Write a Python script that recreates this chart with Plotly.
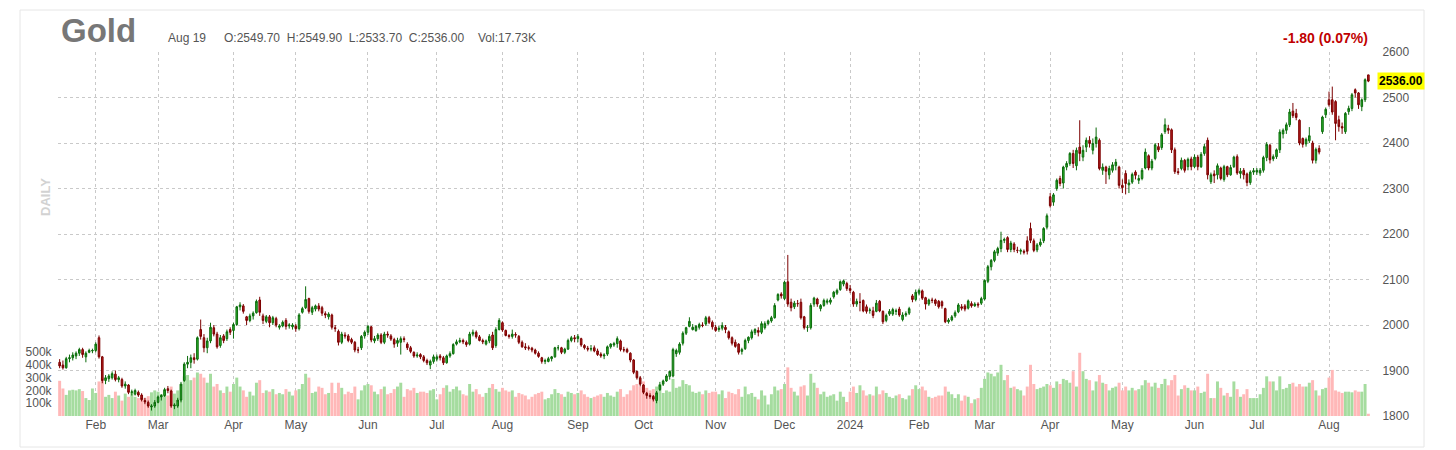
import pandas as pd
import plotly.graph_objects as go

# ---------------- data ----------------
holidays = ['2023-02-20', '2023-04-07', '2023-05-29', '2023-06-19', '2023-07-04', '2023-09-04',
            '2023-11-23', '2023-12-25', '2024-01-01', '2024-01-15', '2024-02-19', '2024-03-29',
            '2024-05-27', '2024-06-19', '2024-07-04']
dates = [d.strftime('%Y-%m-%d') for d in pd.bdate_range('2023-01-17', '2024-08-19')
         if d.strftime('%Y-%m-%d') not in holidays]

opens = [
    # Jan 2023
    1918, 1912, 1906, 1926, 1928, 1932, 1938, 1946, 1930, 1940, 1943,
    # Feb
    1944, 1972, 1930, 1878, 1882, 1884, 1892, 1880, 1880, 1866, 1868, 1852, 1848, 1852, 1846, 1834, 1830, 1820, 1822,
    # Mar
    1830, 1842, 1845, 1860, 1855, 1822, 1822, 1835, 1878, 1914, 1918, 1928, 1925, 1990, 1972, 1950, 1965, 1994, 1980, 1955, 1976, 1970, 1990,
    # Apr
    1988, 2001, 2040, 2042, 2018, 2010, 2020, 2027, 2055, 2020, 2008, 2018, 2005, 2014, 1995, 1998, 2010, 1998, 1996,
    # May
    1998, 1992, 2028, 2038, 2058, 2028, 2035, 2042, 2038, 2025, 2018, 2022, 1994, 1986, 1962, 1978, 1976, 1968, 1962, 1945, 1950, 1976,
    # Jun
    1984, 1996, 1965, 1970, 1978, 1962, 1980, 1976, 1968, 1960, 1962, 1970, 1958, 1950, 1940, 1932, 1935, 1930, 1922, 1912, 1920,
    # Jul
    1925, 1932, 1928, 1917, 1932, 1937, 1958, 1963, 1966, 1962, 1958, 1980, 1984, 1974, 1966, 1958, 1965, 1978, 1955, 1990,
    # Aug
    2005, 1988, 1977, 1975, 1979, 1975, 1962, 1952, 1950, 1949, 1945, 1938, 1928, 1920, 1920, 1926, 1930, 1950, 1950, 1940, 1947, 1966, 1972,
    # Sep
    1970, 1970, 1955, 1949, 1947, 1950, 1943, 1936, 1932, 1936, 1952, 1956, 1959, 1965, 1946, 1946, 1938, 1923, 1898, 1884,
    # Oct
    1868, 1850, 1845, 1843, 1834, 1858, 1870, 1877, 1887, 1888, 1937, 1940, 1960, 1982, 1997, 1990, 1988, 1995, 2000, 2002, 2016, 2006,
    # Nov
    1995, 1990, 1993, 1995, 1985, 1972, 1962, 1958, 1942, 1948, 1966, 1972, 1983, 1988, 1984, 1994, 2003, 2009, 2016, 2055, 2068,
    # Dec
    2058, 2095, 2050, 2040, 2047, 2050, 2018, 1995, 1994, 2046, 2057, 2036, 2043, 2050, 2050, 2062, 2070, 2078, 2090, 2091,
    # Jan 2024
    2080, 2072, 2046, 2050, 2054, 2040, 2032, 2031, 2030, 2052, 2030, 2010, 2024, 2024, 2030, 2035, 2012, 2022, 2026, 2064, 2056,
    # Feb
    2070, 2075, 2060, 2046, 2055, 2055, 2052, 2051, 2036, 2007, 2011, 2020, 2029, 2040, 2042, 2037, 2047, 2042, 2046, 2048,
    # Mar
    2057, 2096, 2128, 2142, 2158, 2168, 2186, 2192, 2166, 2178, 2164, 2162, 2162, 2185, 2212, 2185, 2165, 2176, 2185, 2215,
    # Apr
    2282, 2270, 2300, 2322, 2312, 2347, 2355, 2377, 2350, 2391, 2369, 2391, 2406, 2384, 2399, 2406, 2340, 2347, 2330, 2340, 2350, 2347,
    # May
    2307, 2333, 2308, 2314, 2336, 2318, 2322, 2345, 2372, 2345, 2366, 2392, 2390, 2425, 2432, 2429, 2385, 2337, 2344, 2362, 2348, 2365,
    # Jun
    2348, 2369, 2348, 2377, 2406, 2315, 2332, 2330, 2345, 2320, 2348, 2330, 2348, 2370, 2333, 2340, 2332, 2313, 2336,
    # Jul
    2336, 2334, 2340, 2368, 2395, 2365, 2370, 2385, 2420, 2428, 2440, 2470, 2465, 2450, 2410, 2398, 2405, 2400, 2362, 2388, 2425, 2462,
    # Aug
    2495, 2495, 2491, 2451, 2436, 2425, 2469, 2476, 2517, 2510, 2480, 2495, 2549.7,
]
highs = [
    1925, 1922, 1930, 1935, 1940, 1942, 1950, 1950, 1942, 1948, 1948,
    1962, 1977, 1932, 1890, 1892, 1898, 1900, 1888, 1884, 1876, 1870, 1858, 1860, 1856, 1850, 1840, 1834, 1826, 1835,
    1845, 1848, 1862, 1866, 1858, 1828, 1840, 1875, 1918, 1932, 1935, 1938, 1975, 2012, 1980, 1972, 2005, 2000, 1985, 1978, 1980, 1990, 1995,
    2005, 2042, 2050, 2046, 2020, 2025, 2030, 2056, 2062, 2025, 2022, 2022, 2020, 2018, 2002, 2010, 2015, 2004, 2004,
    2002, 2026, 2040, 2085, 2060, 2042, 2045, 2048, 2042, 2030, 2028, 2025, 2000, 1990, 1985, 1984, 1980, 1972, 1965, 1952, 1978, 1988,
    2000, 1998, 1976, 1982, 1982, 1985, 1986, 1980, 1972, 1972, 1975, 1975, 1962, 1954, 1942, 1940, 1938, 1934, 1926, 1924, 1935,
    1935, 1936, 1932, 1935, 1942, 1960, 1968, 1972, 1970, 1966, 1985, 1990, 1988, 1978, 1970, 1968, 1980, 1985, 1995, 2015,
    2008, 1990, 1980, 1990, 1984, 1978, 1966, 1960, 1955, 1952, 1948, 1942, 1930, 1926, 1930, 1932, 1952, 1956, 1952, 1950, 1970, 1976, 1978,
    1980, 1972, 1958, 1954, 1956, 1955, 1948, 1940, 1938, 1955, 1960, 1963, 1975, 1968, 1952, 1950, 1940, 1925, 1900, 1888,
    1870, 1853, 1850, 1846, 1855, 1875, 1880, 1892, 1900, 1950, 1948, 1962, 1986, 1996, 2017, 2002, 2000, 2005, 2006, 2020, 2020, 2010,
    2000, 1998, 2006, 2000, 1988, 1975, 1968, 1960, 1950, 1970, 1975, 1990, 1993, 1995, 2008, 2008, 2012, 2020, 2048, 2070, 2072,
    2097, 2154, 2058, 2053, 2055, 2058, 2020, 2000, 2048, 2062, 2060, 2046, 2058, 2058, 2060, 2075, 2080, 2098, 2100, 2095,
    2088, 2075, 2058, 2070, 2056, 2045, 2038, 2040, 2055, 2055, 2032, 2025, 2035, 2038, 2036, 2040, 2028, 2030, 2040, 2068, 2078,
    2080, 2078, 2062, 2058, 2060, 2058, 2055, 2054, 2038, 2015, 2022, 2032, 2048, 2046, 2046, 2056, 2052, 2050, 2050, 2062,
    2100, 2132, 2145, 2165, 2172, 2205, 2192, 2195, 2185, 2182, 2172, 2168, 2166, 2195, 2225, 2190, 2180, 2190, 2215, 2245,
    2290, 2290, 2322, 2328, 2350, 2360, 2380, 2385, 2390, 2450, 2395, 2412, 2415, 2410, 2434, 2410, 2355, 2350, 2350, 2358, 2365, 2350,
    2320, 2340, 2320, 2335, 2340, 2330, 2345, 2388, 2375, 2365, 2400, 2400, 2422, 2454, 2440, 2432, 2390, 2345, 2368, 2365, 2368, 2370,
    2375, 2374, 2380, 2398, 2412, 2335, 2340, 2355, 2348, 2352, 2350, 2352, 2372, 2375, 2345, 2345, 2335, 2340, 2345,
    2345, 2345, 2372, 2402, 2398, 2375, 2388, 2430, 2432, 2445, 2475, 2488, 2475, 2452, 2412, 2412, 2435, 2405, 2390, 2395, 2460, 2478,
    2513, 2524, 2494, 2460, 2445, 2468, 2482, 2510, 2520, 2512, 2498, 2542, 2549.9,
]
lows = [
    1905, 1902, 1904, 1918, 1922, 1925, 1932, 1928, 1918, 1938, 1938,
    1940, 1926, 1872, 1870, 1875, 1880, 1876, 1874, 1862, 1860, 1848, 1845, 1845, 1842, 1832, 1826, 1818, 1812, 1818,
    1828, 1834, 1842, 1850, 1818, 1815, 1818, 1830, 1875, 1905, 1905, 1915, 1922, 1968, 1940, 1938, 1960, 1975, 1948, 1950, 1960, 1965, 1978,
    1970, 1998, 2032, 2025, 2000, 2006, 2012, 2025, 2020, 2002, 2004, 1995, 2000, 1995, 1990, 1995, 1990, 1992, 1990,
    1985, 1988, 2025, 2035, 2025, 2022, 2030, 2030, 2020, 2015, 2012, 1990, 1985, 1955, 1958, 1970, 1962, 1958, 1940, 1938, 1945, 1970,
    1978, 1962, 1960, 1965, 1958, 1958, 1972, 1965, 1950, 1952, 1935, 1962, 1945, 1938, 1928, 1928, 1925, 1918, 1912, 1903, 1915,
    1920, 1922, 1912, 1915, 1928, 1935, 1955, 1960, 1958, 1952, 1955, 1975, 1970, 1964, 1958, 1955, 1960, 1945, 1950, 1988,
    1985, 1975, 1970, 1970, 1972, 1958, 1950, 1945, 1944, 1940, 1935, 1928, 1915, 1914, 1918, 1920, 1928, 1944, 1936, 1936, 1945, 1962, 1962,
    1962, 1952, 1946, 1942, 1942, 1940, 1932, 1928, 1925, 1932, 1948, 1952, 1950, 1942, 1940, 1938, 1918, 1892, 1880, 1865,
    1848, 1838, 1838, 1832, 1828, 1855, 1866, 1875, 1880, 1885, 1930, 1935, 1955, 1978, 1995, 1988, 1985, 1990, 1995, 1998, 2002, 1990,
    1985, 1985, 1988, 1982, 1968, 1955, 1950, 1935, 1935, 1945, 1960, 1968, 1978, 1975, 1980, 1990, 2000, 2005, 2014, 2052, 2058,
    2055, 2040, 2030, 2035, 2040, 2012, 1990, 1985, 1990, 2040, 2040, 2030, 2040, 2045, 2045, 2058, 2066, 2075, 2085, 2075,
    2070, 2040, 2040, 2030, 2028, 2025, 2025, 2015, 2028, 2028, 2002, 2006, 2020, 2020, 2022, 2018, 2008, 2018, 2022, 2050, 2052,
    2065, 2055, 2034, 2042, 2048, 2042, 2036, 2036, 2004, 2003, 2008, 2016, 2026, 2032, 2030, 2034, 2038, 2040, 2038, 2044,
    2054, 2092, 2120, 2138, 2152, 2160, 2180, 2160, 2160, 2160, 2158, 2155, 2155, 2155, 2180, 2160, 2160, 2172, 2180, 2210,
    2258, 2262, 2295, 2305, 2300, 2340, 2350, 2345, 2340, 2360, 2360, 2380, 2390, 2375, 2390, 2340, 2330, 2310, 2320, 2335, 2340, 2300,
    2290, 2287, 2290, 2310, 2320, 2310, 2318, 2342, 2340, 2340, 2362, 2380, 2385, 2420, 2420, 2378, 2332, 2330, 2340, 2335, 2340, 2340,
    2345, 2340, 2345, 2372, 2320, 2310, 2312, 2320, 2318, 2315, 2325, 2328, 2345, 2330, 2322, 2320, 2305, 2308, 2330,
    2330, 2328, 2335, 2360, 2355, 2360, 2365, 2378, 2410, 2420, 2435, 2455, 2450, 2395, 2390, 2392, 2400, 2355, 2355, 2375, 2420, 2455,
    2480, 2462, 2406, 2425, 2420, 2420, 2462, 2470, 2500, 2475, 2470, 2490, 2533.7,
]
closes = [
    1910, 1906, 1926, 1928, 1934, 1938, 1946, 1935, 1938, 1944, 1944,
    1958, 1930, 1878, 1884, 1888, 1893, 1880, 1884, 1866, 1870, 1852, 1853, 1856, 1846, 1836, 1831, 1822, 1822, 1830,
    1842, 1845, 1858, 1856, 1822, 1824, 1835, 1870, 1914, 1918, 1928, 1924, 1972, 1975, 1950, 1965, 1995, 1980, 1952, 1972, 1966, 1985, 1984,
    2001, 2040, 2044, 2030, 2010, 2020, 2026, 2052, 2028, 2010, 2018, 2005, 2016, 2000, 1998, 2006, 1997, 2000, 2000,
    1992, 2022, 2036, 2056, 2030, 2038, 2042, 2035, 2026, 2022, 2024, 1995, 1992, 1962, 1980, 1976, 1966, 1962, 1945, 1945, 1975, 1984,
    1997, 1967, 1970, 1978, 1962, 1980, 1978, 1969, 1958, 1966, 1970, 1968, 1950, 1942, 1932, 1934, 1930, 1922, 1917, 1920, 1930,
    1930, 1928, 1917, 1932, 1937, 1957, 1963, 1966, 1963, 1957, 1980, 1984, 1974, 1966, 1963, 1965, 1975, 1950, 1990, 2010,
    1989, 1977, 1975, 1980, 1978, 1962, 1952, 1950, 1949, 1945, 1938, 1931, 1920, 1922, 1926, 1930, 1950, 1950, 1940, 1947, 1966, 1972, 1970,
    1975, 1956, 1950, 1947, 1948, 1943, 1935, 1932, 1934, 1952, 1958, 1959, 1970, 1946, 1945, 1941, 1923, 1896, 1884, 1870,
    1852, 1845, 1843, 1837, 1851, 1868, 1877, 1888, 1898, 1946, 1944, 1958, 1982, 1994, 2008, 1995, 1997, 2001, 1999, 2016, 2006, 1996,
    1988, 1993, 1999, 1990, 1972, 1960, 1953, 1940, 1946, 1966, 1973, 1985, 1990, 1984, 2003, 2003, 2009, 2016, 2043, 2067, 2064,
    2094, 2046, 2038, 2048, 2047, 2016, 1994, 1995, 2043, 2059, 2046, 2043, 2054, 2053, 2055, 2072, 2076, 2095, 2097, 2080,
    2076, 2046, 2052, 2050, 2031, 2030, 2033, 2021, 2048, 2031, 2007, 2021, 2030, 2034, 2031, 2022, 2022, 2025, 2036, 2056, 2072,
    2076, 2059, 2046, 2055, 2054, 2047, 2040, 2042, 2007, 2011, 2018, 2027, 2044, 2037, 2035, 2053, 2042, 2046, 2044, 2058,
    2098, 2128, 2142, 2161, 2168, 2186, 2188, 2166, 2180, 2166, 2164, 2164, 2160, 2162, 2186, 2164, 2176, 2182, 2212, 2240,
    2262, 2286, 2318, 2311, 2347, 2355, 2377, 2355, 2384, 2377, 2384, 2406, 2399, 2399, 2413, 2344, 2347, 2338, 2344, 2352, 2358, 2307,
    2302, 2311, 2312, 2331, 2329, 2322, 2340, 2380, 2345, 2360, 2396, 2385, 2418, 2440, 2428, 2385, 2337, 2335, 2362, 2340, 2364, 2348,
    2369, 2348, 2375, 2392, 2330, 2330, 2328, 2350, 2322, 2348, 2330, 2346, 2369, 2334, 2338, 2330, 2313, 2336, 2339,
    2340, 2340, 2368, 2397, 2363, 2370, 2385, 2424, 2428, 2440, 2468, 2460, 2456, 2400, 2397, 2408, 2416, 2362, 2386, 2380, 2457, 2474,
    2484, 2468, 2443, 2436, 2433, 2465, 2476, 2506, 2510, 2484, 2495, 2539, 2536.0,
]
volumes_k = [
    275, 215, 165, 200, 205, 200, 210, 195, 140, 125, 215,
    180, 270, 300, 150, 165, 140, 190, 160, 120, 175, 150, 190, 150, 140, 165, 140, 155, 185, 200,
    190, 170, 200, 160, 230, 175, 200, 250, 310, 320, 280, 300, 340, 330, 300, 260, 330, 230, 250, 200, 180, 230, 190,
    250, 300, 230, 200, 150, 190, 160, 260, 280, 180, 200, 190, 210, 170, 180, 170, 210, 190, 160,
    200, 210, 250, 330, 300, 180, 190, 230, 220, 170, 180, 260, 180, 260, 220, 170, 190, 180, 230, 130, 200, 240,
    250, 240, 190, 170, 210, 230, 170, 180, 210, 230, 260, 150, 210, 200, 220, 180, 190, 190, 180, 200, 210,
    130, 170, 220, 240, 190, 210, 230, 200, 170, 160, 250, 190, 210, 170, 150, 180, 220, 250, 210, 190,
    220, 200, 190, 200, 150, 180, 170, 160, 130, 150, 170, 180, 190, 130, 140, 170, 210, 180, 170, 150, 190, 180, 170,
    180, 200, 170, 150, 140, 150, 160, 170, 150, 180, 160, 150, 190, 210, 150, 170, 200, 240, 250, 230,
    270, 220, 200, 210, 230, 250, 180, 200, 190, 290, 220, 230, 280, 250, 240, 190, 180, 190, 170, 200, 180, 190,
    190, 170, 200, 140, 190, 180, 170, 210, 150, 230, 170, 180, 150, 130, 200, 160, 90, 170, 230, 200, 210,
    250, 380, 220, 190, 160, 230, 240, 160, 330, 260, 220, 170, 190, 150, 160, 170, 120, 190, 150, 110,
    190, 230, 180, 240, 200, 160, 170, 160, 230, 170, 200, 180, 150, 140, 160, 170, 140, 130, 160, 210, 240,
    210, 230, 200, 150, 140, 150, 160, 160, 230, 190, 170, 140, 170, 120, 160, 150, 100, 130, 140, 220,
    290, 340, 330, 310, 340, 400, 280, 320, 220, 230, 210, 200, 160, 230, 400, 250, 210, 220, 230, 250,
    240, 220, 270, 250, 290, 280, 260, 350, 230, 494, 350, 290, 280, 200, 270, 320, 260, 250, 200, 220, 230, 260,
    200, 230, 200, 220, 200, 210, 240, 280, 260, 230, 260, 220, 250, 290, 240, 280, 320, 160, 210, 240, 220, 200,
    200, 230, 180, 190, 330, 140, 140, 270, 220, 160, 180, 150, 270, 210, 150, 170, 210, 140, 140,
    140, 170, 220, 310, 270, 270, 200, 310, 210, 220, 250, 260, 230, 250, 230, 230, 260, 280, 200, 160, 210, 220,
    300, 360, 200, 190, 180, 190, 190, 185, 200, 190, 190, 250, 17.73,
]

price_ticks = [1800, 1900, 2000, 2100, 2200, 2300, 2400, 2500, 2600]
vol_ticks_k = [100, 200, 300, 400, 500]
month_abbr = ['Jan', 'Feb', 'Mar', 'Apr', 'May', 'Jun', 'Jul', 'Aug', 'Sep', 'Oct', 'Nov', 'Dec']

n = len(dates)
assert n == len(opens) == len(highs) == len(lows) == len(closes) == len(volumes_k), (
    n, len(opens), len(highs), len(lows), len(closes), len(volumes_k))

# month ticks: first trading day of each month (except the first partial month)
tick_vals, tick_text = [], []
for i in range(1, n):
    if dates[i][:7] != dates[i - 1][:7]:
        y, m = int(dates[i][:4]), int(dates[i][5:7])
        tick_vals.append(dates[i])
        tick_text.append(str(y) if m == 1 else month_abbr[m - 1])

vol_colors = ['#a5dc9f' if c >= o else '#ffb8b8' for o, c in zip(opens, closes)]

# ---------------- figure ----------------
L, R, T, B = 58, 86, 52, 34
W, H = 1456, 450
pw, ph = W - L - R, H - T - B


def px(x):
    return (x - L) / pw


def py(y):
    return (H - B - y) / ph


fig = go.Figure()
fig.add_trace(go.Bar(
    x=dates, y=[v * 1000 for v in volumes_k], marker=dict(color=vol_colors, line=dict(width=0)),
    xaxis='x', yaxis='y', hoverinfo='skip', showlegend=False,
))
fig.add_trace(go.Candlestick(
    x=dates, open=opens, high=highs, low=lows, close=closes,
    xaxis='x', yaxis='y2', showlegend=False,
    increasing=dict(line=dict(color='#0b6b0b', width=1), fillcolor='#2db52d'),
    decreasing=dict(line=dict(color='#7c0000', width=1), fillcolor='#b51c1c'),
))

font_family = 'Liberation Sans, Arial, Helvetica, sans-serif'
grid_col = '#c9c9c9'

fig.update_layout(
    width=W, height=H,
    margin=dict(l=L, r=R, t=T, b=B),
    paper_bgcolor='white', plot_bgcolor='white',
    font=dict(family=font_family, size=12, color='#555555'),
    bargap=0.1,
    showlegend=False,
    xaxis=dict(
        type='category', categoryorder='array', categoryarray=dates,
        range=[-0.5, n - 0.5],
        tickmode='array', tickvals=tick_vals, ticktext=tick_text,
        showgrid=True, gridcolor=grid_col, griddash='3px,3px', gridwidth=1,
        showline=False, zeroline=False, ticks='',
        tickfont=dict(size=12, color='#555555'),
        rangeslider=dict(visible=False),
        fixedrange=True,
    ),
    yaxis=dict(
        range=[0, 2844000], side='left',
        tickmode='array', tickvals=[v * 1000 for v in vol_ticks_k],
        ticktext=[f'{v}k' for v in vol_ticks_k],
        showgrid=False, zeroline=False, showline=False,
        ticks='outside', ticklen=3, tickcolor='rgba(0,0,0,0)',
        tickfont=dict(size=12, color='#555555'),
    ),
    yaxis2=dict(
        overlaying='y', side='right', anchor='x',
        range=[1800, 2600], tickmode='array', tickvals=price_ticks,
        showgrid=True, gridcolor=grid_col, griddash='3px,3px', gridwidth=1,
        zeroline=False, showline=False,
        ticks='outside', ticklen=9, tickcolor='rgba(0,0,0,0)',
        tickfont=dict(size=12, color='#555555'),
    ),
)

# outer frame
fig.add_shape(type='rect', xref='paper', yref='paper',
              x0=px(20), x1=px(1424), y0=py(447), y1=py(10),
              line=dict(color='#e6e6e6', width=1), fillcolor='rgba(0,0,0,0)', layer='below')

# title and info line
fig.add_annotation(xref='paper', yref='paper', x=px(59), y=py(31), xanchor='left', yanchor='middle',
                   text='<b>Gold</b>', showarrow=False,
                   font=dict(size=33, color='#777777', family=font_family))
fig.add_annotation(xref='paper', yref='paper', x=px(166), y=py(38), xanchor='left', yanchor='middle',
                   text='Aug 19', showarrow=False, font=dict(size=12, color='#555555'))
fig.add_annotation(xref='paper', yref='paper', x=px(222), y=py(38), xanchor='left', yanchor='middle',
                   text='O:2549.70&nbsp;&nbsp;H:2549.90&nbsp;&nbsp;L:2533.70&nbsp;&nbsp;C:2536.00',
                   showarrow=False, font=dict(size=12, color='#555555'))
fig.add_annotation(xref='paper', yref='paper', x=px(476), y=py(38), xanchor='left', yanchor='middle',
                   text='Vol:17.73K', showarrow=False, font=dict(size=12, color='#555555'))
fig.add_annotation(xref='paper', yref='paper', x=px(1370), y=py(38), xanchor='right', yanchor='middle',
                   text='<b>-1.80 (0.07%)</b>', showarrow=False, font=dict(size=14, color='#c00000'))

# last price marker
fig.add_annotation(xref='paper', yref='y2', x=1.0, y=closes[-1], xanchor='left', yanchor='middle',
                   xshift=7, text=f'<b>{closes[-1]:.2f}</b>', showarrow=False,
                   bgcolor='#ffff00', borderpad=1, font=dict(size=12, color='#000000'))

# vertical "DAILY" label
fig.add_annotation(xref='paper', yref='paper', x=px(45), y=py(197), xanchor='center', yanchor='middle',
                   text='<b>DAILY</b>', textangle=-90, showarrow=False,
                   font=dict(size=13, color='#d2d2d2'))

fig.write_html('out.html')
